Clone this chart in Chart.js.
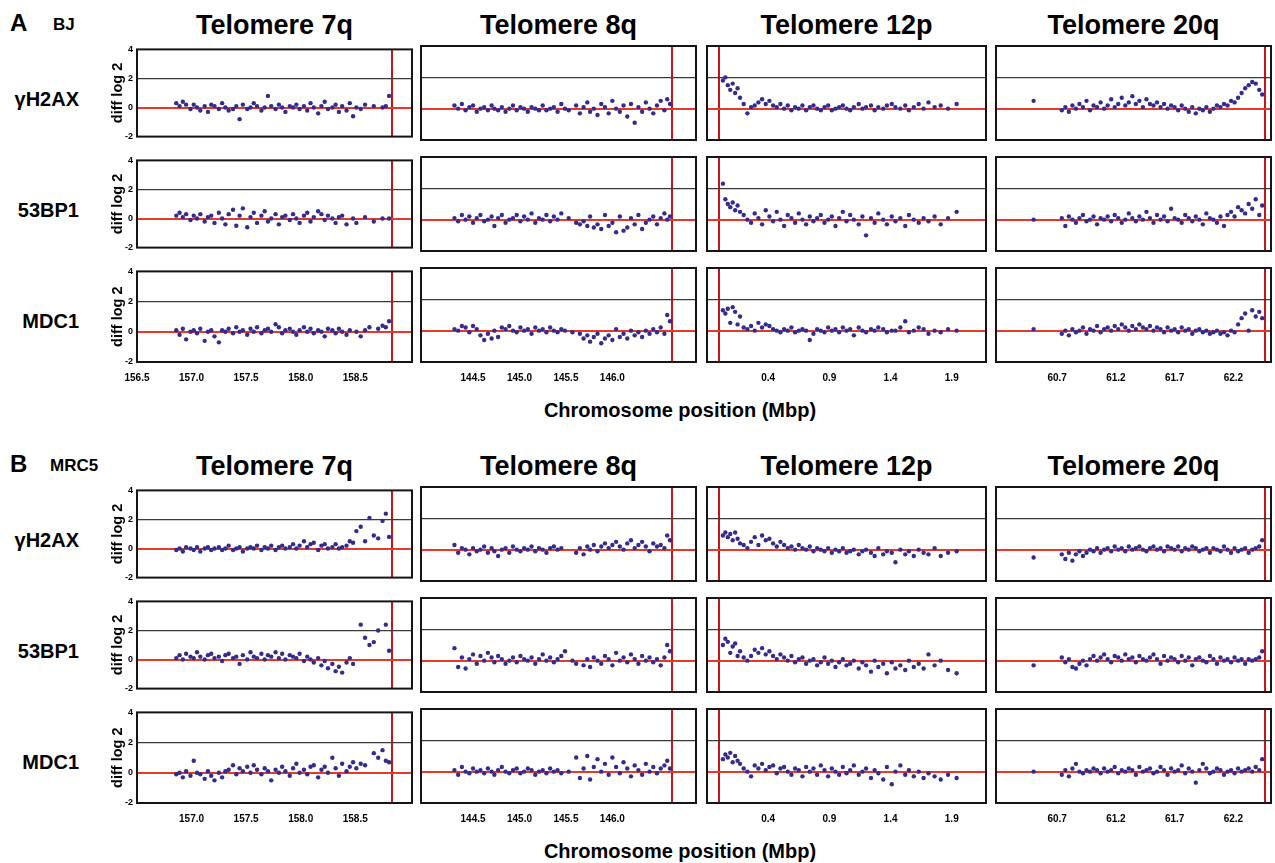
<!DOCTYPE html>
<html>
<head>
<meta charset="utf-8">
<script src="https://cdn.jsdelivr.net/npm/chart.js@4.4.0/dist/chart.umd.min.js"></script>
<style>
body { margin:0; background:#fff; width:1275px; height:863px; position:relative; overflow:hidden;
       font-family:"Liberation Sans", Arial, sans-serif; font-weight:bold; color:#000; }
canvas { position:absolute; }
.t { position:absolute; white-space:nowrap; line-height:1; }
</style>
</head>
<body>
<script>
// probe positions (Mbp) for each telomere region
const x7q = [156.86,156.89,156.92,156.95,156.99,157.02,157.05,157.08,157.12,157.15,
  157.18,157.21,157.25,157.28,157.31,157.34,157.38,157.41,157.44,157.47,
  157.51,157.54,157.57,157.60,157.64,157.67,157.70,157.73,157.77,157.80,
  157.83,157.86,157.90,157.93,157.96,157.99,158.03,158.06,158.09,158.12,
  158.16,158.19,158.22,158.25,158.29,158.32,158.35,158.38,158.42,158.45,
  158.48,158.51,158.55,158.59,158.63,158.67,158.71,158.75,158.78,158.81];
const x8q = [144.30,144.34,144.38,144.42,144.46,144.50,144.54,144.58,144.62,144.66,
  144.70,144.73,144.77,144.81,144.85,144.89,144.93,144.97,145.01,145.05,
  145.09,145.13,145.17,145.21,145.25,145.29,145.33,145.37,145.41,145.45,
  145.49,145.53,145.57,145.61,145.65,145.69,145.73,145.76,145.80,145.84,
  145.88,145.92,145.96,146.00,146.04,146.08,146.12,146.16,146.20,146.24,
  146.28,146.32,146.36,146.40,146.44,146.48,146.52,146.56,146.59,146.62];
const x12p = [0.03,0.05,0.07,0.09,0.11,0.13,0.15,0.17,0.20,0.23,
  0.26,0.29,0.32,0.35,0.38,0.41,0.44,0.47,0.50,0.53,
  0.56,0.59,0.62,0.65,0.68,0.71,0.74,0.77,0.80,0.83,
  0.86,0.89,0.92,0.95,0.98,1.01,1.04,1.07,1.10,1.14,
  1.17,1.20,1.24,1.27,1.30,1.34,1.37,1.41,1.44,1.48,
  1.52,1.55,1.59,1.63,1.67,1.71,1.76,1.81,1.87,1.94];
const x20q = [60.50,
  60.74,60.77,60.80,60.83,60.86,60.89,60.92,60.95,60.98,61.01,
  61.04,61.07,61.10,61.13,61.16,61.19,61.22,61.25,61.28,61.31,
  61.34,61.37,61.40,61.43,61.46,61.49,61.52,61.55,61.58,61.61,
  61.64,61.67,61.70,61.73,61.76,61.79,61.82,61.85,61.88,61.91,
  61.94,61.97,62.00,62.03,62.06,62.09,62.12,62.15,62.18,62.21,
  62.24,62.27,62.30,62.33,62.36,62.39,62.42,62.445];

// telomere ends (red vertical lines) and axis ranges
const telomereEnds = [158.84, 146.64, 0.0, 62.47];
const xMin = [156.5, 143.94, -0.10, 60.18];
const xMax = [159.02, 146.90, 2.18, 62.52];
const ticksA = [[156.5,157.0,157.5,158.0,158.5],[144.5,145.0,145.5,146.0],[0.4,0.9,1.4,1.9],[60.7,61.2,61.7,62.2]];
const ticksB = [[157.0,157.5,158.0,158.5],[144.5,145.0,145.5,146.0],[0.4,0.9,1.4,1.9],[60.7,61.2,61.7,62.2]];
const yTicks = [-2, 0, 2, 4];
const titles = ['Telomere 7q','Telomere 8q','Telomere 12p','Telomere 20q'];
const rowNames = ['\u03b3H2AX','53BP1','MDC1'];

// BJ cells, diff log2
const bjH2ax7q = [0.3,0.1,0.4,0.2,-0.1,0.2,0.0,-0.2,0.1,-0.3,
  0.2,0.1,-0.1,0.3,0.0,-0.2,-0.1,0.1,-0.8,0.2,
  -0.1,0.0,0.3,0.1,-0.2,0.0,0.8,0.1,-0.1,0.2,
  0.0,-0.3,0.1,0.0,0.2,-0.1,0.1,-0.2,0.3,0.0,
  -0.4,0.1,0.4,-0.1,0.0,0.2,-0.3,0.1,-0.2,0.3,
  -0.6,0.0,-0.1,0.2,null,0.1,null,0.0,0.1,0.8];
const bjH2ax8q = [0.2,0.0,0.3,-0.1,0.1,0.2,-0.2,0.0,0.1,-0.1,
  0.2,0.0,-0.1,0.1,-0.2,0.0,0.2,-0.1,0.1,0.0,
  -0.2,0.1,0.0,-0.1,0.2,-0.1,0.0,0.1,-0.2,0.3,
  0.0,-0.1,null,0.2,-0.3,0.1,0.4,-0.2,0.0,-0.4,
  0.3,0.1,-0.3,0.5,0.0,-0.2,0.2,-0.5,0.3,-0.9,
  0.1,-0.2,0.4,0.0,-0.3,0.2,0.5,-0.1,0.6,0.3];
const bjH2ax12p = [1.8,2.0,1.5,1.2,1.6,1.0,1.3,0.7,0.3,-0.3,
  0.1,0.2,0.4,0.6,0.3,0.5,0.2,0.1,0.3,0.0,
  0.2,-0.1,0.1,0.0,0.2,-0.1,0.1,0.2,0.0,-0.1,
  0.1,0.2,-0.1,0.0,0.1,0.2,0.0,-0.1,0.1,0.3,
  0.0,0.1,0.2,-0.1,0.1,0.0,0.2,0.3,0.1,0.0,
  0.2,-0.1,0.1,0.3,0.0,0.4,0.1,0.2,0.0,0.3];
const bjH2ax20q = [0.5,
  -0.1,0.1,-0.2,0.2,0.0,0.3,0.1,0.5,-0.1,0.2,
  0.1,0.4,0.0,0.2,0.6,0.1,0.3,0.7,0.2,0.4,
  0.8,0.3,0.5,0.1,0.6,0.3,0.2,0.4,0.1,0.3,
  0.0,0.2,0.1,-0.1,0.2,0.0,-0.2,0.1,-0.3,0.0,
  -0.1,0.1,-0.2,0.0,0.2,0.1,0.3,0.2,0.5,0.4,
  0.7,1.0,1.3,1.5,1.7,1.6,1.2,0.9];

const bj53bp1_7q = [0.2,0.4,0.1,0.3,-0.1,0.2,0.0,0.3,-0.2,0.1,
  0.2,-0.3,0.4,0.0,-0.4,0.3,0.6,-0.5,0.2,0.7,
  -0.6,0.1,0.4,-0.3,0.2,0.5,-0.2,0.0,0.3,-0.4,
  0.1,0.2,-0.1,0.3,0.0,-0.3,0.2,0.4,-0.2,0.1,
  0.5,0.3,-0.1,0.2,0.0,-0.3,0.1,0.2,-0.4,null,
  0.0,-0.3,null,0.1,null,-0.2,null,0.0,null,0.0];
const bj53bp1_8q = [0.1,-0.1,0.3,0.0,0.2,-0.2,0.1,0.3,-0.1,0.0,
  0.2,-0.4,0.1,0.3,-0.2,0.0,0.1,0.3,-0.1,0.2,
  0.0,0.4,-0.2,0.1,0.0,0.3,-0.1,0.2,0.0,0.4,
  null,0.1,null,-0.2,-0.3,-0.1,-0.4,0.2,-0.5,-0.3,
  -0.6,0.3,-0.4,-0.2,-0.8,0.2,-0.7,-0.5,0.1,-0.3,
  0.3,-0.6,-0.2,0.0,0.2,-0.3,0.1,0.4,0.0,0.2];
const bj53bp1_12p = [2.3,1.3,1.0,0.8,1.1,0.6,0.9,0.5,0.3,0.0,
  -0.2,0.4,0.1,-0.3,0.6,0.2,-0.1,0.5,0.0,-0.4,
  0.3,0.1,-0.2,0.4,0.0,-0.3,0.2,-0.1,0.1,0.3,
  -0.2,0.0,0.2,-0.4,0.1,0.5,-0.1,0.3,0.0,-0.3,
  0.2,-1.0,0.1,-0.2,0.4,0.0,-0.3,0.2,-0.1,0.1,
  -0.4,0.3,0.0,-0.2,0.1,-0.1,0.2,-0.3,0.1,0.5];
const bj53bp1_20q = [0.0,
  0.1,-0.4,0.2,0.0,-0.2,0.1,0.3,-0.1,0.0,0.2,
  -0.3,0.1,0.0,0.2,-0.1,0.3,0.1,-0.2,0.0,0.4,
  0.1,-0.1,0.2,0.0,0.5,0.1,-0.2,0.3,0.0,0.2,
  -0.1,0.7,0.1,0.0,-0.2,0.3,0.1,-0.1,0.2,0.0,
  -0.3,0.4,0.1,0.0,-0.2,0.2,-0.4,0.3,0.5,0.2,
  0.8,0.6,0.4,1.0,0.7,1.3,0.3,0.9];

const bjMdc1_7q = [0.1,-0.2,0.2,-0.5,0.0,0.1,-0.1,0.2,-0.6,0.0,
  0.1,-0.3,-0.7,0.1,0.0,0.2,-0.1,0.3,0.0,0.1,
  -0.2,0.2,0.0,0.3,-0.1,0.1,0.2,0.0,0.5,0.3,
  -0.1,0.1,0.2,0.0,-0.2,0.1,0.3,0.0,0.2,-0.1,
  0.1,0.0,-0.3,0.2,0.1,-0.1,0.2,0.0,-0.2,0.1,
  null,0.0,-0.3,0.1,0.3,null,0.2,0.4,0.3,0.7];
const bjMdc1_8q = [0.1,0.0,0.3,0.2,-0.1,0.3,0.1,-0.3,-0.6,-0.2,
  -0.5,0.0,-0.4,0.2,0.1,0.3,0.0,-0.1,0.2,0.0,
  0.1,-0.2,0.2,0.0,0.1,-0.1,0.2,0.0,-0.1,0.1,
  0.0,null,-0.1,null,-0.2,-0.5,-0.3,-0.7,-0.4,-0.2,
  -0.8,-0.5,-0.3,-0.6,0.1,-0.4,-0.2,-0.5,0.0,-0.3,
  -0.1,-0.4,0.0,-0.2,0.1,-0.1,0.2,-0.2,1.0,0.6];
const bjMdc1_12p = [1.3,1.1,1.4,0.5,1.5,1.2,0.4,0.9,0.2,0.1,
  0.3,0.0,0.5,0.2,0.4,0.3,0.1,0.0,-0.1,0.1,
  0.0,0.2,-0.1,0.0,0.1,0.0,-0.6,-0.2,0.1,0.0,
  -0.1,0.2,0.0,0.1,-0.1,0.2,0.0,0.1,-0.3,0.2,
  0.0,-0.1,0.1,0.0,0.2,0.1,-0.1,0.0,0.0,0.2,
  0.6,-0.1,0.0,0.2,0.1,-0.2,0.0,-0.1,0.1,0.0];
const bjMdc1_20q = [0.1,
  -0.2,0.0,-0.3,0.1,-0.1,0.0,0.2,-0.2,0.1,0.0,
  0.3,-0.1,0.1,0.2,0.0,0.3,0.1,0.4,0.2,0.0,
  0.3,0.1,0.4,0.2,0.1,0.3,0.0,0.2,0.1,-0.1,
  0.2,0.0,0.1,-0.1,0.2,0.0,0.1,-0.2,0.0,0.1,
  -0.1,0.0,-0.2,-0.1,0.0,-0.2,-0.1,-0.3,0.0,-0.1,
  0.4,0.8,1.1,0.0,1.3,0.9,1.2,0.8];

// MRC5 cells, diff log2
const mrcH2ax7q = [-0.1,0.0,-0.2,0.1,0.0,-0.1,0.1,-0.2,0.0,0.1,
  -0.1,0.0,0.1,-0.1,0.0,0.2,-0.1,0.0,0.1,-0.2,
  0.0,0.1,0.0,0.2,-0.1,0.1,0.0,0.2,-0.1,0.1,
  0.2,0.0,0.1,0.3,0.0,0.2,0.5,0.1,0.3,0.4,
  -0.1,0.2,0.3,0.0,0.1,0.3,0.0,0.1,0.2,0.5,
  0.4,1.2,1.5,0.5,2.1,0.9,0.7,1.9,2.4,0.8];
const mrcH2ax8q = [0.3,-0.2,0.1,0.0,-0.3,0.1,-0.1,0.0,0.2,-0.2,
  0.1,-0.1,-0.4,0.0,0.1,-0.2,0.2,0.0,-0.1,0.1,
  0.0,0.2,-0.1,0.1,0.0,-0.2,0.1,0.2,0.0,0.1,
  null,null,null,-0.2,0.1,-0.3,0.2,0.0,0.3,-0.1,
  0.2,0.4,0.1,0.3,0.5,0.2,0.0,0.4,0.6,0.1,
  0.3,0.5,0.2,-0.1,0.4,0.2,0.3,0.1,0.9,0.6];
const mrcH2ax12p = [0.9,1.1,0.8,1.0,0.6,1.1,0.7,0.4,0.3,0.1,
  0.5,0.8,0.3,0.9,0.6,0.7,0.4,0.2,0.5,0.3,
  0.1,0.2,0.0,0.3,0.1,0.0,0.2,-0.1,0.1,0.0,
  -0.1,0.1,-0.2,0.0,-0.1,0.1,-0.2,-0.1,0.0,-0.3,
  -0.1,0.0,-0.2,-0.4,0.1,-0.3,-0.1,-0.2,-0.8,0.0,
  -0.3,-0.1,-0.4,0.0,-0.2,-0.3,0.1,-0.4,-0.2,-0.1];
const mrcH2ax20q = [-0.5,
  -0.3,-0.6,-0.2,-0.7,-0.3,-0.1,-0.4,-0.2,0.0,-0.1,
  0.1,-0.2,0.0,0.1,-0.1,0.2,0.0,0.1,-0.1,0.2,
  0.0,0.1,0.2,0.0,-0.1,0.1,0.2,0.0,0.1,-0.1,
  0.2,0.1,0.0,0.2,-0.1,0.1,0.0,0.2,0.1,-0.1,
  0.0,0.1,-0.2,0.1,0.0,-0.1,0.2,0.0,-0.2,0.1,
  -0.1,0.0,0.1,-0.2,0.0,0.1,0.2,0.6];

const mrc53bp1_7q = [0.1,0.3,0.0,0.4,0.2,0.1,0.5,0.2,0.0,0.3,
  0.4,0.1,0.2,-0.1,0.3,0.4,0.1,0.2,-0.3,0.3,
  0.0,0.5,0.2,0.1,0.4,0.0,0.3,0.2,0.5,0.1,
  0.4,0.0,0.3,0.2,0.1,0.4,-0.1,0.2,0.0,-0.2,
  0.1,-0.4,-0.1,-0.6,-0.3,-0.8,-0.5,-0.9,-0.2,0.1,
  -0.3,null,2.4,1.5,1.0,1.2,2.0,null,2.4,0.6];
const mrc53bp1_8q = [0.8,-0.4,0.2,-0.5,0.1,0.4,-0.2,0.3,0.0,0.5,
  0.2,-0.1,0.3,0.1,-0.2,0.0,0.2,-0.1,0.3,0.1,
  0.0,0.2,-0.2,0.1,0.4,0.0,0.2,-0.1,0.1,0.3,
  0.6,null,0.0,-0.2,null,-0.3,0.1,-0.4,0.2,0.0,
  -0.2,0.3,0.1,-0.3,0.5,0.0,0.2,-0.1,0.4,0.1,
  -0.2,0.3,0.0,0.2,-0.1,0.1,-0.3,0.2,1.0,0.6];
const mrc53bp1_12p = [1.0,1.4,1.2,0.5,0.9,1.1,0.3,0.6,0.2,0.0,
  0.3,0.7,0.5,0.8,0.4,0.6,0.3,0.1,0.4,0.2,
  0.0,0.3,-0.1,0.1,0.2,-0.2,0.0,0.1,-0.3,-0.1,
  0.2,-0.2,0.0,-0.4,-0.1,0.1,-0.3,-0.2,0.0,-0.5,
  -0.1,-0.3,-0.7,0.0,-0.4,-0.2,-0.8,-0.1,-0.5,-0.3,
  -0.6,0.0,-0.4,-0.2,-0.5,0.4,-0.3,0.0,-0.6,-0.8];
const mrc53bp1_20q = [-0.3,
  0.2,-0.1,0.1,-0.4,-0.5,-0.2,0.0,-0.3,0.1,0.3,
  0.0,0.2,0.4,0.1,-0.1,0.3,0.2,0.0,0.4,0.1,
  0.2,-0.1,0.3,0.1,0.0,0.2,0.4,0.1,-0.2,0.3,
  0.0,0.2,0.1,-0.1,0.3,0.0,0.2,-0.3,0.1,0.2,
  0.0,-0.1,0.3,0.1,-0.2,0.2,0.0,0.1,-0.1,0.2,
  0.0,0.1,-0.2,0.1,0.0,0.1,0.2,0.6];

const mrcMdc1_7q = [-0.1,0.0,-0.3,0.1,-0.2,0.8,0.0,-0.1,-0.4,0.1,
  -0.2,-0.5,0.0,-0.3,0.1,0.2,0.5,-0.1,0.3,0.1,
  0.4,0.0,0.5,0.2,-0.1,0.3,0.1,-0.5,0.2,0.0,
  0.4,0.1,-0.2,0.3,0.6,0.0,0.2,-0.1,0.4,0.5,
  -0.3,0.2,0.4,0.0,1.0,0.3,-0.2,0.6,0.1,0.4,
  0.7,0.3,0.6,0.5,null,1.3,1.0,1.5,0.8,0.7];
const mrcMdc1_8q = [0.1,-0.2,0.3,0.0,-0.1,0.2,0.0,0.1,-0.1,0.2,
  0.0,-0.2,0.1,0.3,0.0,-0.1,0.1,0.2,-0.1,0.0,
  0.2,0.1,-0.2,0.0,0.1,-0.1,0.2,0.0,0.1,-0.1,
  null,0.0,null,0.9,-0.4,0.2,1.0,-0.5,0.3,0.8,
  0.0,0.5,-0.2,0.9,0.3,-0.1,0.6,0.2,-0.3,0.4,
  0.1,-0.2,0.5,0.0,0.3,-0.1,0.2,0.4,0.7,0.2];
const mrcMdc1_12p = [0.8,1.1,0.9,1.2,0.6,1.0,0.7,0.5,0.2,0.0,
  -0.3,0.4,0.2,0.5,0.1,0.3,0.4,-0.1,0.2,0.3,
  0.0,-0.2,0.2,0.1,-0.3,0.3,0.0,0.2,-0.2,0.4,
  0.1,-0.3,0.2,0.0,-0.2,0.3,-0.1,0.1,0.4,-0.2,
  0.0,0.2,-0.4,0.1,-0.1,-0.5,0.3,-0.8,0.0,0.4,
  -0.2,0.1,-0.3,0.0,-0.4,-0.1,-0.3,-0.5,-0.2,-0.4];
const mrcMdc1_20q = [0.0,
  -0.2,0.1,-0.3,0.2,0.5,0.0,-0.1,0.1,0.0,0.2,
  0.1,-0.1,0.2,0.0,0.1,0.3,-0.1,0.1,0.0,0.2,
  0.1,-0.2,0.3,0.0,0.1,0.2,-0.1,0.0,0.3,0.1,
  -0.2,0.2,0.0,0.1,0.4,-0.1,0.2,0.0,-0.7,0.1,
  0.5,0.2,-0.1,0.0,0.2,0.1,-0.2,0.0,0.1,-0.1,
  0.2,0.0,0.1,0.2,0.0,0.3,0.1,0.8];

const probes = [x7q, x8q, x12p, x20q];
const sections = [
  { letter: 'A', cell: 'BJ', ticks: ticksA, rows: [
    [bjH2ax7q, bjH2ax8q, bjH2ax12p, bjH2ax20q],
    [bj53bp1_7q, bj53bp1_8q, bj53bp1_12p, bj53bp1_20q],
    [bjMdc1_7q, bjMdc1_8q, bjMdc1_12p, bjMdc1_20q]] },
  { letter: 'B', cell: 'MRC5', ticks: ticksB, rows: [
    [mrcH2ax7q, mrcH2ax8q, mrcH2ax12p, mrcH2ax20q],
    [mrc53bp1_7q, mrc53bp1_8q, mrc53bp1_12p, mrc53bp1_20q],
    [mrcMdc1_7q, mrcMdc1_8q, mrcMdc1_12p, mrcMdc1_20q]] }
];

// layout
const colLeft = [137, 421, 707, 996];
const colWidth = [275, 275, 279, 275];
const rowTop = [[46, 157, 268], [487, 598, 709]];
const panelH = 94;
const PAD = 6, AXIS_W = 28, AXIS_H = 26;
const FONT = '"Liberation Sans", Arial, sans-serif';

const framePlugin = {
  id: 'frame',
  afterDraw(chart) {
    const a = chart.chartArea, c = chart.ctx;
    c.save();
    c.strokeStyle = '#151515';
    c.lineWidth = 2;
    c.strokeRect(a.left, a.top, a.right - a.left, a.bottom - a.top);
    c.restore();
  }
};

function addText(text, x, y, size, align) {
  const d = document.createElement('div');
  d.className = 't';
  d.textContent = text;
  d.style.fontSize = size + 'px';
  d.style.left = x + 'px';
  d.style.top = y + 'px';
  d.style.transform = align === 'center' ? 'translate(-50%,-50%)'
    : align === 'right' ? 'translate(-100%,-50%)' : 'translate(0,-50%)';
  document.body.appendChild(d);
}

function makePanel(si, r, c, ys) {
  const bx = colLeft[c], by = rowTop[si][r], bw = colWidth[c];
  const first = c === 0, bottom = r === 2;
  const yw = first ? AXIS_W : 0, xh = bottom ? AXIS_H : 0;
  const cv = document.createElement('canvas');
  cv.width = bw + 2 * PAD + yw;
  cv.height = panelH + 2 * PAD + xh;
  cv.style.left = (bx - PAD - yw) + 'px';
  cv.style.top = (by - PAD) + 'px';
  document.body.appendChild(cv);

  const pts = [];
  probes[c].forEach((x, i) => { if (ys[i] != null) pts.push({ x: x, y: ys[i] }); });
  const labels = sections[si].ticks[c];
  const tel = telomereEnds[c];
  const xVals = labels.concat([tel]).sort((a, b) => a - b);

  new Chart(cv, {
    type: 'scatter',
    data: { datasets: [{
      data: pts,
      backgroundColor: '#332c8c',
      borderWidth: 0,
      pointRadius: 2.2,
      pointHoverRadius: 2.2
    }] },
    options: {
      responsive: false,
      animation: false,
      devicePixelRatio: 1,
      events: [],
      layout: { padding: PAD },
      plugins: { legend: { display: false }, tooltip: { enabled: false } },
      scales: {
        x: {
          type: 'linear', min: xMin[c], max: xMax[c],
          afterBuildTicks: sc => { sc.ticks = xVals.map(v => ({ value: v })); },
          afterFit: sc => { sc.height = xh; },
          border: { display: false },
          grid: {
            drawTicks: false,
            color: ctx => (ctx.tick && ctx.tick.value === tel) ? '#c4141c' : 'rgba(0,0,0,0)',
            lineWidth: 2
          },
          ticks: {
            display: bottom, autoSkip: false, maxRotation: 0, padding: 10, color: '#000',
            font: { family: FONT, size: 10, weight: 'bold' },
            callback: v => labels.includes(v) ? v.toFixed(1) : ''
          }
        },
        y: {
          min: -2, max: 4,
          afterBuildTicks: sc => { sc.ticks = yTicks.map(v => ({ value: v })); },
          afterFit: sc => { sc.width = yw; },
          border: { display: false },
          grid: {
            drawTicks: false,
            color: ctx => !ctx.tick ? 'rgba(0,0,0,0)' : ctx.tick.value === 0 ? '#e8382c'
              : ctx.tick.value === 2 ? '#3a3a3a' : 'rgba(0,0,0,0)',
            lineWidth: ctx => (ctx.tick && ctx.tick.value === 0) ? 2 : 1.2
          },
          ticks: { display: first, padding: 4, color: '#000', font: { family: FONT, size: 9, weight: 'bold' } },
          title: { display: first, text: 'diff log 2', padding: 0, color: '#000',
                   font: { family: FONT, size: 14.5, weight: 'bold' } }
        }
      }
    },
    plugins: [framePlugin]
  });
}

sections.forEach((sec, si) => {
  const top = rowTop[si][0];
  addText(sec.letter, 10, top - 23, 24, 'left');
  addText(sec.cell, si === 0 ? 53 : 50, top - 22, 17, 'left');
  titles.forEach((t, c) => addText(t, colLeft[c] + colWidth[c] / 2, top - 21, 27, 'center'));
  sec.rows.forEach((row, r) => {
    addText(rowNames[r], 79, rowTop[si][r] + 53, 20, 'right');
    row.forEach((ys, c) => makePanel(si, r, c, ys));
  });
  addText('Chromosome position (Mbp)', 680, top + 364, 20, 'center');
});
</script>
</body>
</html>
